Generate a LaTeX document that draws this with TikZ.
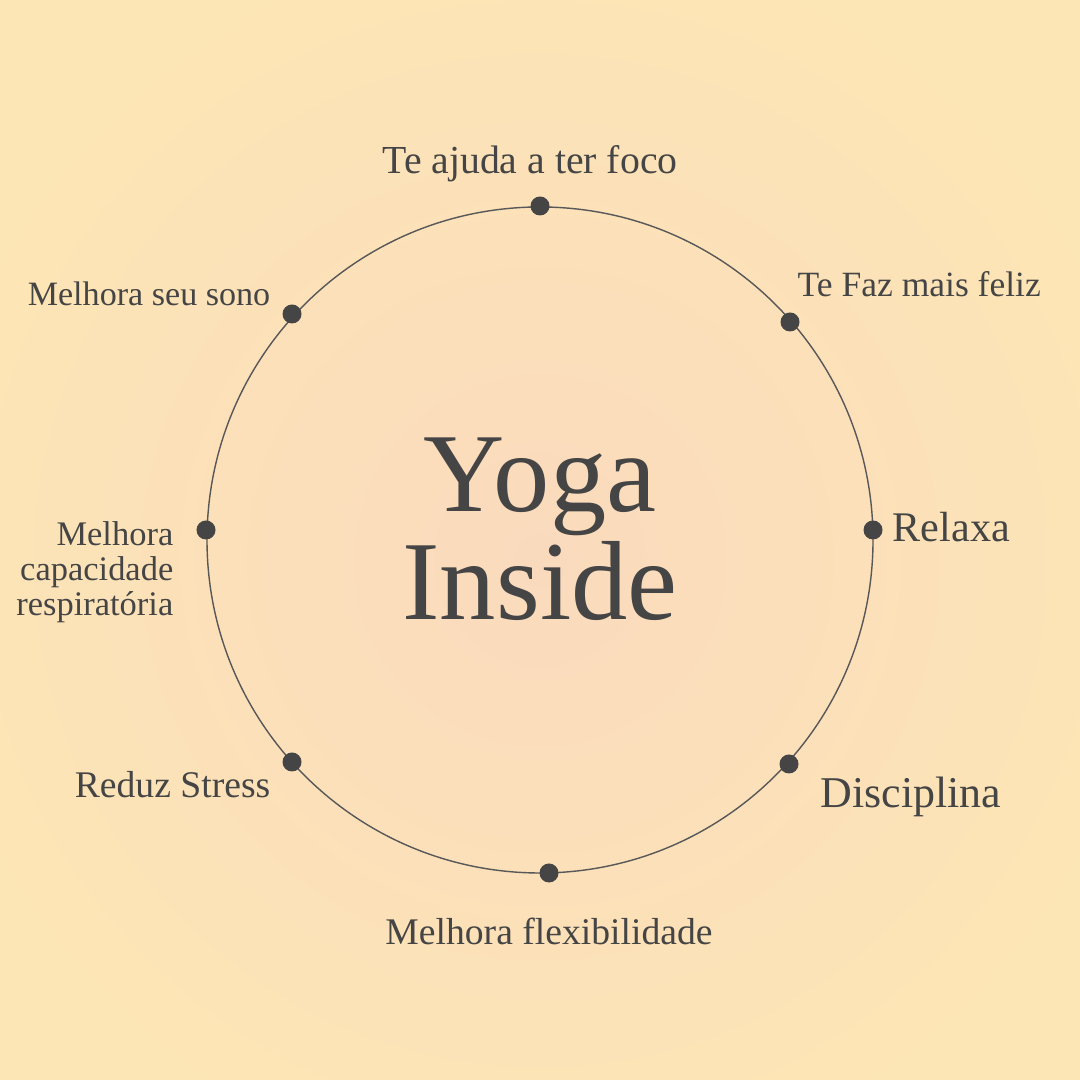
\documentclass[tikz,border=0pt]{standalone}
\usepackage{fontspec}
\setmainfont{Liberation Serif}
\definecolor{bgyellow}{HTML}{FDE6B5}
\definecolor{peach}{HTML}{FADABD}
\definecolor{ink}{HTML}{454545}

\begin{document}
\begin{tikzpicture}[x=0.01cm,y=0.01cm,
  label/.style={inner sep=0pt,text=ink,font=\fontsize{10.7}{12}\selectfont},
  dot/.style={circle,fill=ink,inner sep=0pt,minimum size=0.19cm}]
\fill[bgyellow] (0,0) rectangle (1080,1080);
\useasboundingbox (0,0) rectangle (1080,1080);
\shade[inner color=peach,outer color=bgyellow] (540,520) circle (640);
\draw[ink!90,line width=0.4pt] (540,540) circle (333);
\node[label,anchor=base,font=\fontsize{32}{36}\selectfont] (yoga) at (540,568) {Yoga};
\node[label,anchor=base,font=\fontsize{32}{36}\selectfont] (inside) at (540,460) {Inside};
\node[dot] (foco) at (540,874) {};
\node[dot] (feliz) at (790,758) {};
\node[dot] (relaxa) at (873,550) {};
\node[dot] (disc) at (789,316) {};
\node[dot] (flex) at (549,207) {};
\node[dot] (stress) at (292,318) {};
\node[dot] (resp) at (206,550) {};
\node[dot] (sono) at (292,766) {};
\node[label,anchor=base,font=\fontsize{11.3}{13}\selectfont] (focotext) at (530,906) {Te ajuda a ter foco};
\node[label,anchor=base west,font=\fontsize{10.1}{12}\selectfont] (felizstext) at (797,783) {Te Faz mais feliz};
\node[label,anchor=base west,font=\fontsize{12}{14}\selectfont] (relaxatext) at (892,538) {Relaxa};
\node[label,anchor=base west,font=\fontsize{12.5}{14}\selectfont] (disctext) at (820,272) {Disciplina};
\node[label,anchor=base] (flextext) at (549,135) {Melhora flexibilidade};
\node[label,anchor=base east] (stresstext) at (271,282) {Reduz Stress};
\node[label,anchor=base east,font=\fontsize{9.7}{11}\selectfont] (sonotext) at (271,774) {Melhora seu sono};
\node[label,anchor=east,align=right,font=\fontsize{9.8}{9.9}\selectfont] (resptext) at (174,508) {Melhora\\capacidade\\respiratória};
\end{tikzpicture}
\end{document}
